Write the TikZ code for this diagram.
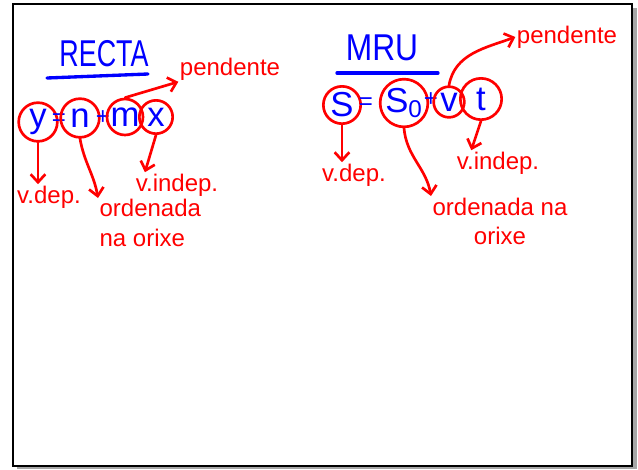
\documentclass[tikz,border=0pt]{standalone}
\usepackage{fontspec}
\setmainfont{Liberation Sans}
\usetikzlibrary{arrows.meta}

\tikzset{
  ink/.style={red, line width=2pt, line cap=round, -{Straight Barb[length=6pt,width=11pt]}},
  eq/.style={text=blue, font=\fontsize{26}{26}\selectfont, inner sep=0pt},
  sign/.style={text=blue, font=\fontsize{18}{18}\selectfont, inner sep=0pt},
  ring/.style={eq, circle, draw=red, line width=2pt},
  note/.style={text=red, font=\fontsize{18}{22}\selectfont, inner sep=1pt},
  heading/.style={text=blue, font=\fontsize{28}{28}\selectfont, inner sep=1pt}
}

\begin{document}
\begin{tikzpicture}[x=0.75pt,y=-0.75pt]
            \useasboundingbox (0,0) rectangle (638,469);
            % board
            \fill[gray!70] (17,8) rectangle (637,469);
            \draw[fill=white, line width=1.5pt] (13,4) rectangle (632,466);

            % recta
            \begin{scope}
                \node[heading] (recta) at (104,54) {\scalebox{0.72}[1]{RECTA}};
                \draw[blue, line width=2.5pt, line cap=round] (47,78) -- (148,74);
                \node[ring, minimum size=29pt] (y) at (38,122) {y};
                \node[sign] (eqA) at (59,120) {=};
                \node[ring, minimum size=29pt] (n) at (80,118) {n};
                \node[sign] (plusA) at (103,118) {+};
                \node[ring, minimum size=27pt] (m) at (125,117) {m};
                \node[ring, minimum size=25pt] (x) at (156,117) {x};
            \end{scope}

            \begin{scope}[every node/.style={note}]
                \node (pendA) at (230,69) {pendente};
                \node (vdepA) at (49,197) {v.dep.};
                \node[anchor=north west, align=left] (ordA) at (98,198) {ordenada\\na orixe};
                \node (vindepA) at (177,185) {v.indep.};
            \end{scope}

            \begin{scope}
                \path [ink] (m.north) edge (pendA.south west);
                \path [ink] (y.south) edge (y.south |- vdepA.north);
                \path [ink] (n.south) edge[out=-80, in=100] (ordA.north west);
                \path [ink] (x.south) edge ([xshift=8pt]vindepA.north west);
            \end{scope}

            % mru
            \begin{scope}
                \node[heading] (mru) at (382,48) {\scalebox{0.85}[1]{MRU}};
                \draw[blue, line width=2.5pt, line cap=round] (337,73) -- (438,73);
                \node[ring, minimum size=28pt] (S) at (342,105) {S};
                \node[sign] (eqB) at (366,104) {=};
                \node[ring, minimum size=35pt] (So) at (404,103) {S\textsubscript{0}};
                \node[sign] (plusB) at (431,100) {+};
                \node[ring, minimum size=23pt] (v) at (449,102) {v};
                \node[ring, minimum size=31pt] (t) at (481,99) {t};
            \end{scope}

            \begin{scope}[every node/.style={note}]
                \node (pendB) at (567,37) {pendente};
                \node (vdepB) at (354,175) {v.dep.};
                \node[anchor=north, align=center] (ordB) at (500,196) {ordenada na\\orixe};
                \node (vindepB) at (498,163) {v.indep.};
            \end{scope}

            \begin{scope}
                \path [ink] (v.north) edge[out=80, in=200] (pendB.west);
                \path [ink] (S.south) edge (S.south |- vdepB.north);
                \path [ink] (So.south) edge[out=-85, in=100] (ordB.north west);
                \path [ink] (t.south) edge ([xshift=12pt]vindepB.north west);
            \end{scope}
            \end{tikzpicture}
\end{document}
